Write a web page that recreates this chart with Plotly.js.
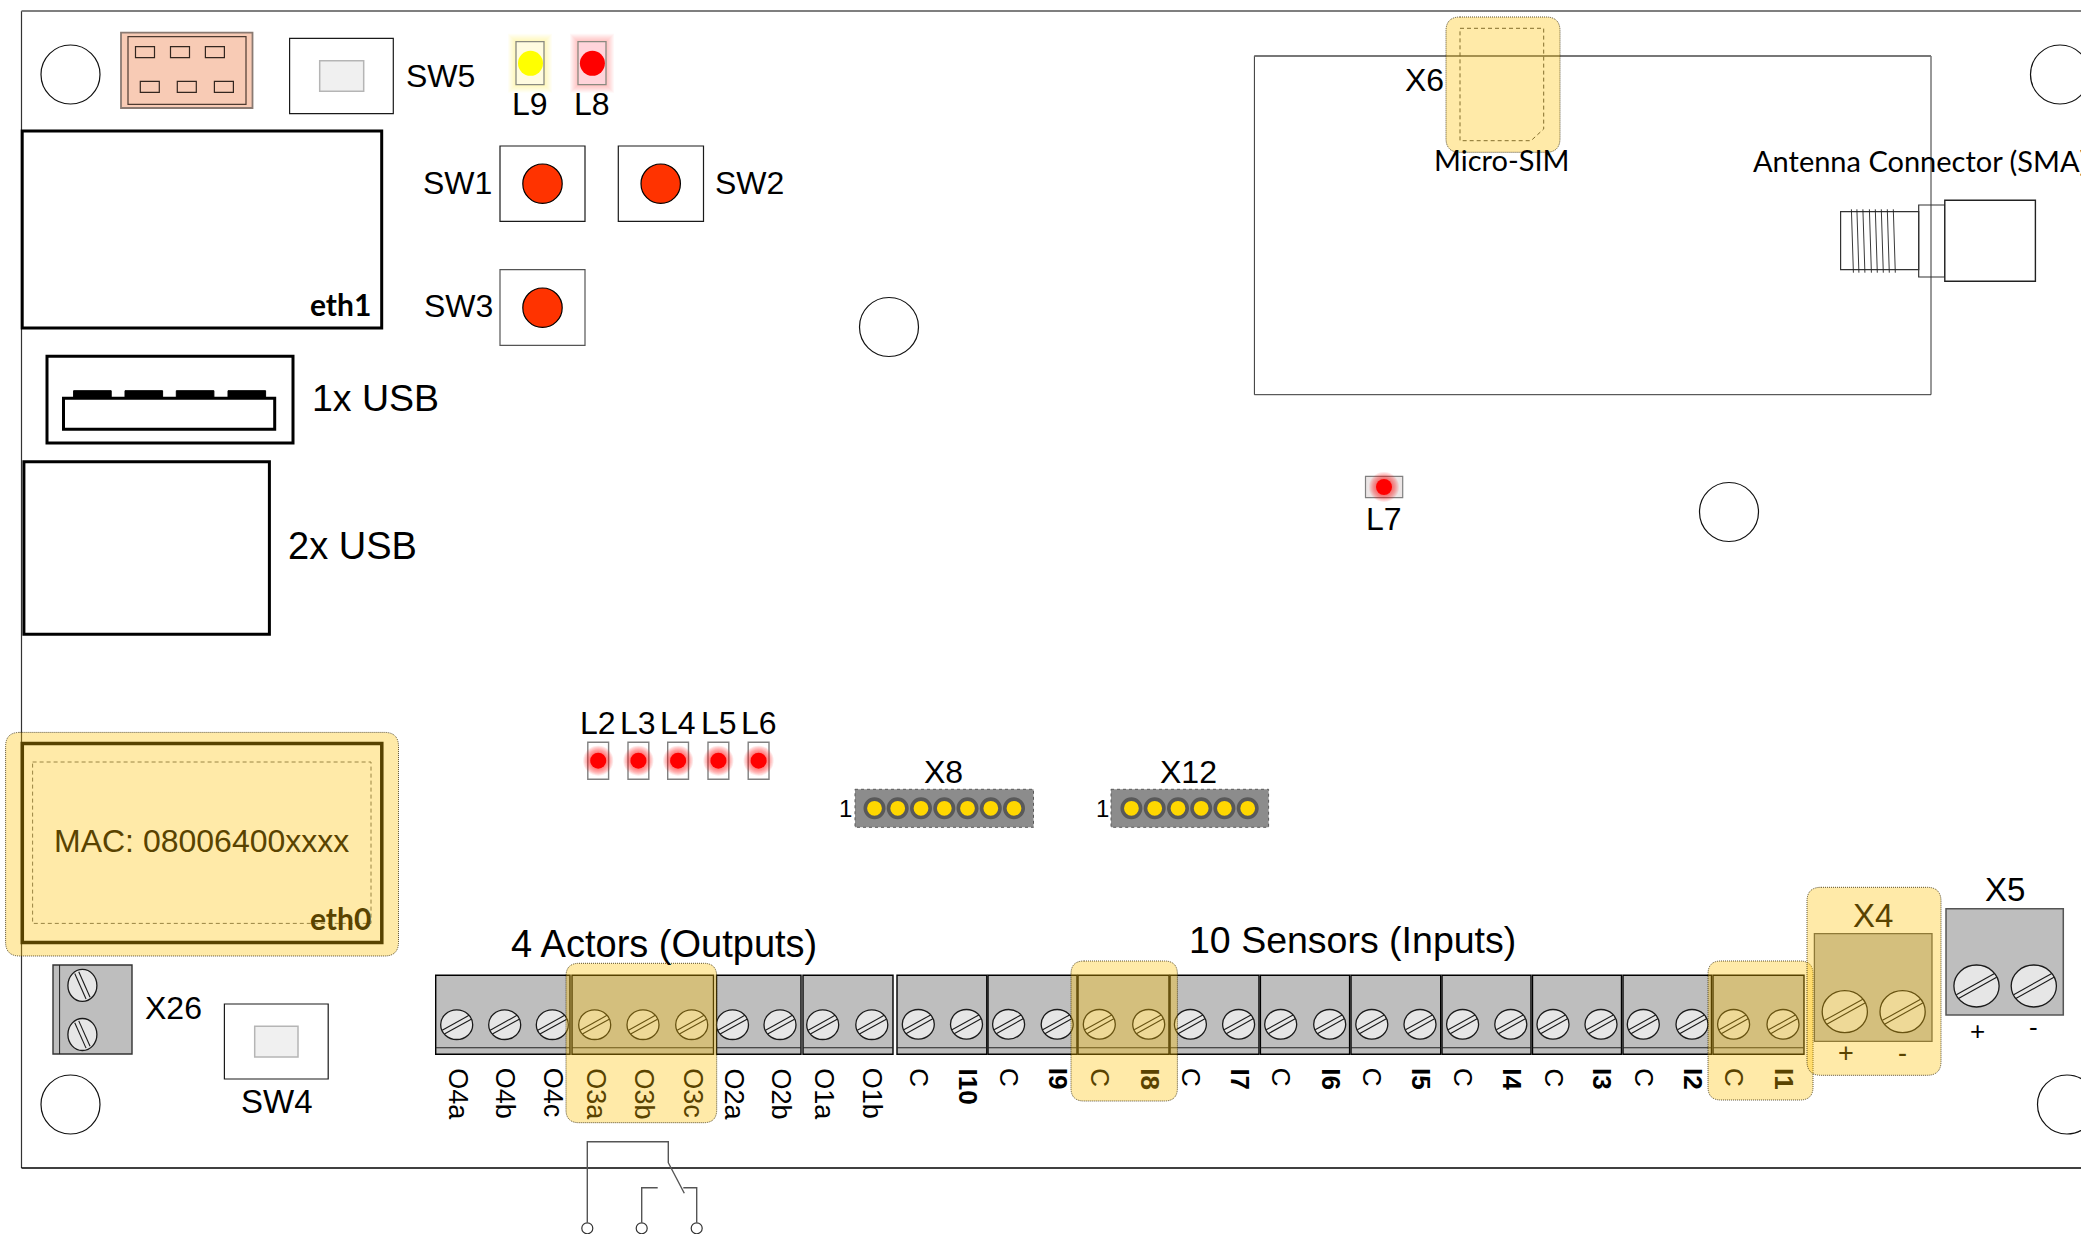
<!DOCTYPE html>
<html><head><meta charset="utf-8">
<script src="https://cdn.plot.ly/plotly-3.0.1.min.js"></script>
<style>html,body{margin:0;padding:0;background:#fff;overflow:hidden}</style>
</head><body><div id="chart" style="width:2081px;height:1234px"></div>
<script>
const holeX = [70.5, 889, 1729, 2060, 70.5, 2067];
const holeY = [74.5, 327, 512, 74.5, 1104.5, 1104.5];

const outputBlocksX0 = [435.7, 572, 716.5, 803];
const outputBlocksX1 = [570, 713.5, 801, 893];
const inputBlocksX0 = [897, 988, 1078, 1170, 1260.4, 1351, 1442, 1532.5, 1623, 1713];
const inputBlocksX1 = [986.8, 1077, 1169, 1259, 1349.6, 1440.7, 1531, 1621.5, 1711.5, 1804];
const outputLabels = ["O4a","O4b","O4c","O3a","O3b","O3c","O2a","O2b","O1a","O1b"];
const outputScrewX = [456.7,504.7,552.3,594.7,643,691.7,732.5,780,822.7,871.8];
const inputLabels = ["C","I10","C","I9","C","I8","C","I7","C","I6","C","I5","C","I4","C","I3","C","I2","C","I1"];
const inputScrewX = [918.3,966.5,1008.6,1057.2,1099.3,1148.7,1190.4,1238.6,1280.7,1329.7,1371.8,1420,1462.6,1510.8,1553,1601,1643.3,1692,1733.6,1783];
const tintedTerminals = ["O3a","O3b","O3c","I8","I1"];

const ledRowLabels = ["L2","L3","L4","L5","L6"];
const ledRowX = [598.2,638.4,678.1,718.4,758.6];
const x8PinX = [874.5,897.7,921,944.3,967.5,990.8,1014];
const x12PinX = [1131.4,1154.7,1178,1201.2,1224.4,1247.7];
const threadX = [1851.4,1856.9,1862.9,1869.4,1875.3,1881.3,1887.3,1893.3];
const relayCircleX = [587.3,641.7,696.7];

const plainLabels = [
 ["SW5",440,76,32],["SW1",457.5,182.7,32],["SW2",749.5,182.7,32],["SW3",458.5,305.7,32],
 ["L9",530,104,32],["L8",592,104,32],["L7",1384,519,32],
 ["1x USB",375.5,398,37.5],["2x USB",352,545.5,38],["X26",173,1008,32],["SW4",276.5,1101,33],
 ["X8",943.8,772,32],["X12",1188.6,772,32],["1",845.4,808,24],["1",1102.3,808,24],
 ["X6",1424.5,80,32],["X5",2004.7,889,33],["+",1977.3,1031,26],["-",2033.8,1027,26],
 ["4 Actors (Outputs)",664,943.5,38],["10 Sensors (Inputs)",1352,939.5,37.5]
];
const tintedLabels = [["MAC: 08006400xxxx",201.5,840.7,32],["X4",1872.6,915,33],["+",1846,1052.7,27],["-",1902.6,1053,27]];

const BLOCK="#bebebe", SCREW="#e6e6e6", INK="#1a1a1a", TINT="#594300", GOLD="rgba(255,192,0,0.34)";
const ARIAL="Liberation Sans, Arial, sans-serif", CAL="Lato, Calibri, sans-serif";

// ---- helpers ----
const shapes=[]; const annotations=[]; const over=[];
function rect(x0,y0,x1,y1,col,w,fill,dash){shapes.push({type:"rect",layer:"below",x0,y0,x1,y1,line:{color:col,width:w,dash:dash||"solid"},fillcolor:fill||"rgba(0,0,0,0)"});}
function ell(cx,cy,rx,ry,col,w,fill){shapes.push({type:"circle",layer:"below",x0:cx-rx,x1:cx+rx,y0:cy-ry,y1:cy+ry,line:{color:col,width:w},fillcolor:fill||"rgba(0,0,0,0)"});}
function poly(pts,col,w,dash){shapes.push({type:"path",layer:"below",path:"M"+pts.map(p=>p[0]+" "+p[1]).join(" L"),line:{color:col,width:w,dash:dash||"solid"}});}
function round(x0,y0,x1,y1,r){over.push({type:"path",layer:"above",fillcolor:GOLD,line:{color:"rgba(50,38,0,0.8)",width:1,dash:"1px,1px"},
 path:`M${x0+r} ${y0} L${x1-r} ${y0} Q${x1} ${y0} ${x1} ${y0+r} L${x1} ${y1-r} Q${x1} ${y1} ${x1-r} ${y1} L${x0+r} ${y1} Q${x0} ${y1} ${x0} ${y1-r} L${x0} ${y0+r} Q${x0} ${y0} ${x0+r} ${y0} Z`});}
function text(t,x,y,size,opt){opt=opt||{};annotations.push({text:t,x,y,xref:"x",yref:"y",showarrow:false,xanchor:opt.xa||"center",yanchor:opt.ya||"middle",textangle:opt.rot||0,
 font:{family:opt.fam||ARIAL,size,color:opt.col||"#000"},borderpad:0,borderwidth:0});}
function screw(cx,cy,rx,ry,deg){
 ell(cx,cy,rx,ry,INK,1.3,SCREW);
 const a=deg*Math.PI/180, c=Math.cos(a), s=Math.sin(a);
 [-2.2,2.2].forEach(d=>{const hx=Math.sqrt(Math.max(rx*rx-d*d,0))*0.97;
   poly([[cx-hx*c-d*s,cy-hx*s+d*c],[cx+hx*c-d*s,cy+hx*s+d*c]],INK,1.1);});
}

// ---- board ----
poly([[21.5,11],[21.5,1168]],"#333",1.2);
poly([[21.5,11],[2081,11]],"#7f7f7f",2);
poly([[21.5,1168],[2081,1168]],"#000",1.4);

// top-left connector
rect(121,32.7,252.5,108,"#8a7a72",1.8,"#f8cbb5");
rect(128,36.7,246,104.3,"#4d3a30",1.2);
[135.5,170.5,205.4].forEach(x=>rect(x,46.7,x+19,57.7,"#33261f",1.2));
[140.3,177.3,214.4].forEach(x=>rect(x,81.3,x+19,92.3,"#33261f",1.2));

// switches
rect(289.6,38.3,393.3,113.7,INK,1.2,"#fff"); rect(319.7,60.7,363.7,91.3,"#b5b5b5",1.5,"#f0f0f0");
rect(224.4,1004,328.2,1079,INK,1.2,"#fff"); rect(254.7,1026.3,298,1057,"#b5b5b5",1.5,"#f0f0f0");
rect(500,146,585,221.3,INK,1.2,"#fff"); rect(618.3,146,703.5,221.3,INK,1.2,"#fff"); rect(500,269.7,585,345.3,"#555",1.2,"#fff");
ell(542.5,183.7,19.7,19.7,"#000",1.2,"#ff3300"); ell(660.7,183.7,19.7,19.7,"#000",1.2,"#ff3300"); ell(542.5,307.7,19.7,19.7,"#000",1.2,"#ff3300");

// LED packages with halo
[[516,544,"255,240,0",0.035,"#fffbe0"],[578,606,"255,0,0",0.03,"#ffd4da"]].forEach(l=>{
 [8,7,6,5,4,3,2,1].forEach(g=>shapes.push({type:"rect",layer:"below",x0:l[0]-g,x1:l[1]+g,y0:41.7-g,y1:84.7+g,line:{width:0},fillcolor:`rgba(${l[2]},${l[3]})`}));
 rect(l[0],41.7,l[1],84.7,"#8a8a80",1.3,l[4]);
});
ledRowX.forEach(x=>rect(x-10.4,742.3,x+10.4,779.3,"#808080",1.4,"#fff"));
rect(1365.5,476.4,1402.7,497.6,"#808080",1.2,"#ece6e6");

// eth & usb
rect(22.2,131,381.7,328,"#000",3,"#fff");
rect(47,356.3,293,443,"#000",3,"#fff");
[73.6,125,176.3,228].forEach(x=>rect(x,390.7,x+37.6,398.3,"#000",1,"#000"));
rect(63.5,398.3,274.7,429.3,"#000",3,"#fff");
rect(23.9,461.8,269.4,634.3,"#000",3,"#fff");
rect(22.3,743.6,381.8,942.5,"#000",3.5,"#fff");
rect(32.6,762,371,923.4,"#666",1,"rgba(0,0,0,0)","4px,3px");

// LTE module and antenna
rect(1254.4,56,1931,394.7,"#333",1,"rgba(0,0,0,0)");
poly([[1254.4,56],[1931,56]],"#777",1.8);
poly([[1460,28.3],[1543.7,28.3],[1543.7,129],[1531,140.7],[1460,140.7],[1460,28.3]],"#444",1,"4px,3px");
rect(1840.6,211.7,1918.7,269.7,"#333",1.2);
threadX.forEach(x=>poly([[x,209.3],[x+2,272.7]],"#222",0.9));
rect(1918.7,205,1944.8,277,"#333",1.2);
rect(1944.8,200.3,2035.4,281.3,"#222",1.4,"#fff");

// headers
rect(855,789.3,1033.5,827.3,"#5a5a5a",1,"#8c8c8c","dot");
rect(1111,789.3,1268.6,827.3,"#5a5a5a",1,"#8c8c8c","dot");

// terminal strips
outputBlocksX0.concat(inputBlocksX0).forEach((x0,i)=>{
 const x1=outputBlocksX1.concat(inputBlocksX1)[i];
 rect(x0,975.3,x1,1054.3,"#000",1.4,BLOCK);
 poly([[x0,1047.7],[x1,1047.7]],"#222",1.1);
});
outputScrewX.forEach(x=>screw(x,1024.7,16,14.8,-29));
inputScrewX.forEach(x=>screw(x,1024.3,16,14.8,-29));
function termLabels(labels,xs,bold){labels.forEach((t,i)=>{
 const isBold=bold&&t!=="C"; const near=tintedTerminals.includes(t)||(t==="C"&&(i===4||i===18));
 text(isBold?"<b>"+t+"</b>":t,xs[i]+1,1068,bold?26:27,{rot:90,ya:"top",col:near?TINT:"#000"});});}
termLabels(outputLabels,outputScrewX,false);
termLabels(inputLabels,inputScrewX,true);

// X26, X4, X5
rect(53,965,132,1054,"#333",1.4,BLOCK); poly([[59.6,965],[59.6,1054]],"#222",1);
screw(82.4,985.4,14.5,16,66); screw(82.4,1034.5,14.5,16,66);
rect(1814.4,933.7,1932,1041.3,"#555",1.3,BLOCK);
screw(1844.8,1011.7,22.6,21,-29); screw(1902.6,1011.7,22.6,21,-29);
rect(1946,908.7,2063.3,1015,"#555",1.5,BLOCK);
screw(1976.5,986,22.6,21,-29); screw(2033.8,986,22.6,21,-29);

// relay symbol
const R="#555";
poly([[587.3,1222.6],[587.3,1141.7],[668.3,1141.7],[668.3,1162.7],[684.3,1193.3]],R,1.4);
poly([[641.7,1222.6],[641.7,1187.7],[657.7,1187.7]],R,1.4);
poly([[696.7,1222.6],[696.7,1187.7],[683.3,1187.7]],R,1.4);

// text
plainLabels.forEach(l=>text(l[0],l[1],l[2],l[3]));
tintedLabels.forEach(l=>text(l[0],l[1],l[2],l[3],{col:TINT}));
ledRowLabels.forEach((t,i)=>text(t,ledRowX[i]+(i-2)*0.3,723.3,32));
text("<b>eth1</b>",340,303.5,30,{fam:CAL});
text("<b>eth0</b>",340,917.5,30,{fam:CAL,col:TINT});
text("Micro-SIM",1501.5,159.5,29,{fam:CAL});
text("Antenna Connector (SMA)",1752.7,160,29,{fam:CAL,xa:"left"});

// yellow highlights
round(5.6,732.4,398.5,956,14);
round(566,963.3,716.7,1122.7,13);
round(1071,961,1177.4,1101,13);
round(1708,961,1813,1100,13);
round(1807,887.3,1941,1075.3,14);
round(1446,17,1560,152.3,14);

// ---- traces ----
const dot=(name,x,y,size,color,lc,lw)=>({type:"scatter",mode:"markers",name,x,y,hoverinfo:"skip",showlegend:false,cliponaxis:true,
 marker:{size,color,opacity:1,line:{color:lc||color,width:lw||0}}});
const rep=(a,v)=>a.map(()=>v);
const traces=[
 dot("holes",holeX,holeY,59,"#fff","#111",1.2),
 dot("relay terminals",relayCircleX,rep(relayCircleX,1228.3),11,"#fff","#333",1.2),
];
[30,28,26,24,22,20,18].forEach(s=>traces.push(dot("led glow",ledRowX.concat([1384]),rep(ledRowX,760.7).concat([487]),s,"rgba(255,0,0,0.09)")));
traces.push(dot("leds",ledRowX.concat([1384]),rep(ledRowX,760.7).concat([487]),16,"#ff0000"));
traces.push(dot("L9",[530.5],[63.3],25,"#ffff00"));
traces.push(dot("L8",[592.4],[63.3],25,"#ff0000"));
traces.push(dot("x8 pins",x8PinX,rep(x8PinX,808.3),18.4,"#ffd700","#595959",3.6));
traces.push(dot("x12 pins",x12PinX,rep(x12PinX,808.3),18.4,"#ffd700","#595959",3.6));

Plotly.newPlot("chart",traces,{
 width:2081,height:1234,margin:{l:0,r:0,t:0,b:0,pad:0},paper_bgcolor:"#fff",plot_bgcolor:"#fff",showlegend:false,hovermode:false,
 xaxis:{range:[0,2081],visible:false,fixedrange:true},
 yaxis:{range:[1234,0],visible:false,fixedrange:true},
 shapes:shapes.concat(over),annotations
},{displayModeBar:false,staticPlot:true});
</script></body></html>
